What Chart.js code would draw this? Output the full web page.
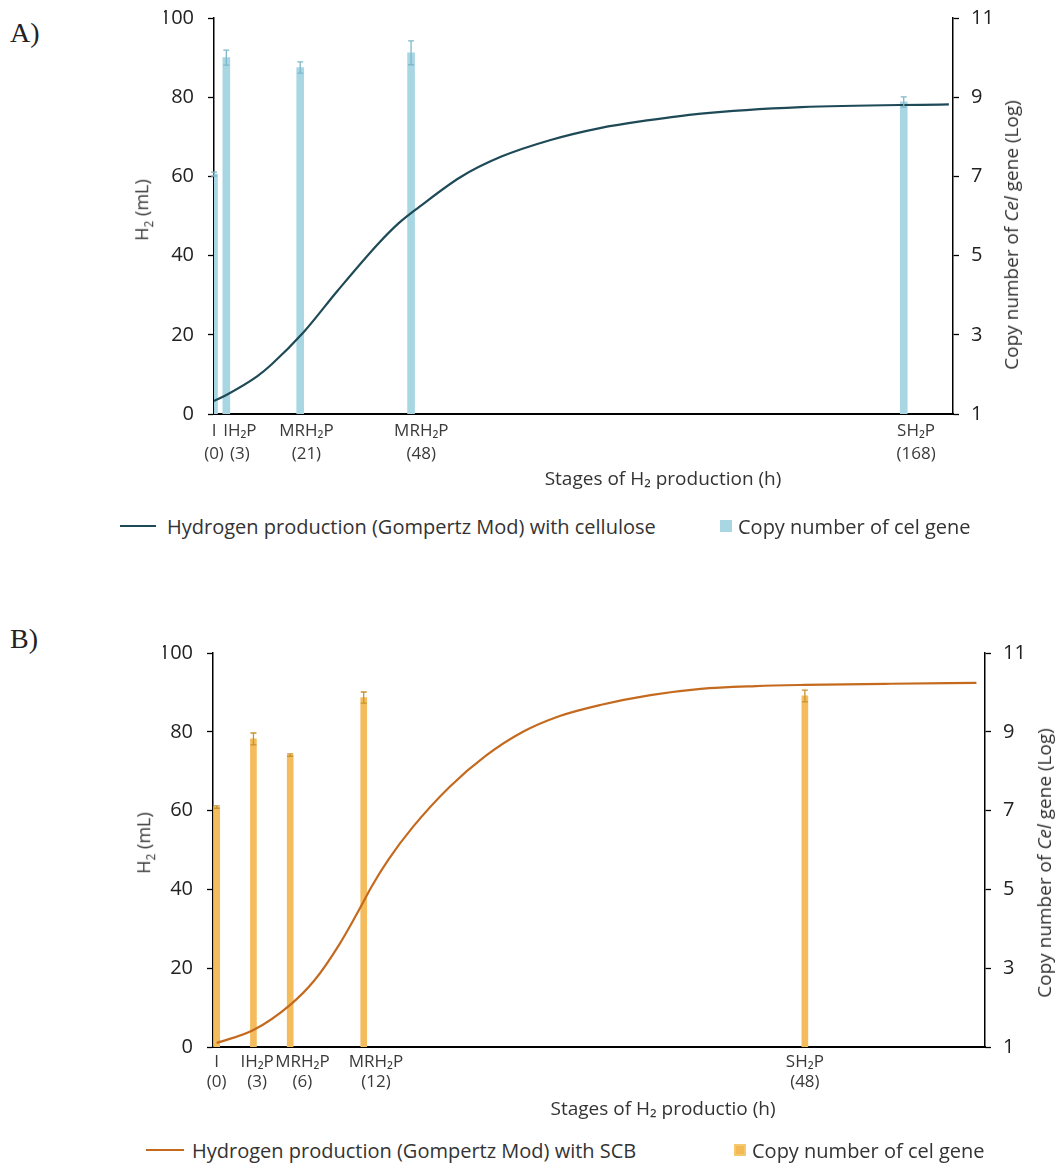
<!DOCTYPE html>
<html>
<head>
<meta charset="utf-8">
<script src="https://cdn.jsdelivr.net/npm/chart.js@4.4.1/dist/chart.umd.min.js"></script>
<style>
  body { margin: 0; background: #fff; font-family: "Open Sans", sans-serif; color: #333; }
  #page { position: relative; width: 1057px; height: 1169px; overflow: hidden; }
  .box { position: absolute; left: 0; width: 1057px; }
  .txt { position: absolute; white-space: nowrap; }
  .rot { transform: translate(-50%, -50%) rotate(-90deg); color: #333; }
  .panel { font-family: "Liberation Serif", serif; font-size: 28px; color: #222; }
  .xt { transform: translate(-50%, -50%); font-size: 19px; color: #333; }
  .leg { font-size: 20px; color: #333; transform: translateY(-50%); }
  .legline { position: absolute; height: 0; border-top: 2px solid; }
  .legbox { position: absolute; width: 12px; height: 12px; }
</style>
</head>
<body>
<div id="page">
  <div class="txt panel" style="left:10px; top:17px;">A)</div>
  <div class="box" style="top:-22px; height:516px;"><canvas id="chartA"></canvas></div>
  <div class="txt rot" style="left:143px; top:210px; font-size:18px;">H<sub style="font-size:12px">2</sub> (mL)</div>
  <div class="txt rot" style="left:1011px; top:235px; font-size:19px;">Copy number of <i>Cel</i> gene (Log)</div>
  <div class="txt xt" style="left:663px; top:478px;">Stages of H₂ production (h)</div>
  <div class="legline" style="left:120px; width:36px; top:525px; border-color:#1e4a57;"></div>
  <div class="txt leg" style="left:167px; top:526px;">Hydrogen production (Gompertz Mod) with cellulose</div>
  <div class="legbox" style="left:720px; top:520px; background:#a9d6e3;"></div>
  <div class="txt leg" style="left:738px; top:526px;">Copy number of cel gene</div>

  <div class="txt panel" style="left:10px; top:623px;">B)</div>
  <div class="box" style="top:613px; height:514px;"><canvas id="chartB"></canvas></div>
  <div class="txt rot" style="left:145px; top:843px; font-size:18px;">H<sub style="font-size:12px">2</sub> (mL)</div>
  <div class="txt rot" style="left:1044px; top:863px; font-size:19px;">Copy number of <i>Cel</i> gene (Log)</div>
  <div class="txt xt" style="left:663px; top:1108px;">Stages of H₂ productio (h)</div>
  <div class="legline" style="left:146px; width:38px; top:1149px; border-color:#c46a1f;"></div>
  <div class="txt leg" style="left:192px; top:1150px;">Hydrogen production (Gompertz Mod) with SCB</div>
  <div class="legbox" style="left:734px; top:1144px; background:#f2b955; box-shadow: inset 0 0 0 2px #f5c76f;"></div>
  <div class="txt leg" style="left:752px; top:1150px;">Copy number of cel gene</div>
</div>
<script>
// A) cellulose
const stagesA = ['I', 'IH₂P', 'MRH₂P', 'MRH₂P', 'SH₂P'];
const hoursA = [0, 3, 21, 48, 168];
const copiesA = [7.06, 10.0, 9.75, 10.12, 8.88];
const copiesErrA = [0.05, 0.19, 0.14, 0.3, 0.13];
const labelAtA = [0, 6.3, 22.5, 50.5, 171];   // where the stage names sit on the hour axis
const curveHoursA = [0, 3, 10.5, 14, 21.7, 30, 40, 45, 50, 60, 70, 82, 94, 106, 118, 143, 179];
const curveH2A = [3.3, 4.8, 9.5, 12.5, 20.5, 31, 43, 48.2, 52.3, 59.8, 65, 69.2, 72.2, 74.2, 75.8, 77.5, 78.2];

// B) sugarcane bagasse
const stagesB = ['I', 'IH₂P', 'MRH₂P', 'MRH₂P', 'SH₂P'];
const hoursB = [0, 3, 6, 12, 48];
const copiesB = [7.09, 8.82, 8.41, 9.87, 9.91];
const copiesErrB = [0.03, 0.15, 0.03, 0.14, 0.15];
const labelAtB = [0, 3.3, 7.0, 13.0, 48];
const curveHoursB = [0, 3, 6, 8, 10, 12, 12.6, 14, 16, 19, 22, 25, 28, 31.3, 35.4, 39.5, 44, 48, 55, 62];
const curveH2B = [1.0, 4.3, 10.7, 17, 26, 37, 40.5, 47.5, 55.8, 66, 74, 80, 84, 86.8, 89.3, 90.9, 91.6, 91.9, 92.2, 92.4];

const leftTicks = [0, 20, 40, 60, 80, 100];
const rightTicks = [1, 3, 5, 7, 9, 11];

// error bars on top of the copy-number bars
const errorBars = {
  id: 'errorBars',
  afterDatasetsDraw(chart) {
    const ds = chart.data.datasets.find(d => d.errors);
    if (!ds) return;
    const x = chart.scales.x, y = chart.scales.y2;
    const ctx = chart.ctx;
    ctx.save();
    ctx.strokeStyle = ds.errorColor;
    ctx.lineWidth = 1.3;
    ds.data.forEach((p, i) => {
      const px = x.getPixelForValue(p.x);
      const top = y.getPixelForValue(p.y + ds.errors[i]);
      const bot = y.getPixelForValue(p.y - ds.errors[i]);
      ctx.beginPath();
      ctx.moveTo(px, top); ctx.lineTo(px, bot);
      ctx.moveTo(px - 3, top); ctx.lineTo(px + 3, top);
      ctx.moveTo(px - 3, bot); ctx.lineTo(px + 3, bot);
      ctx.stroke();
    });
    ctx.restore();
  }
};

function makeChart(id, o) {
  const tickFont = { family: 'Open Sans', size: 20 };
  return new Chart(document.getElementById(id), {
    data: {
      datasets: [{
        type: 'line',
        label: o.lineLabel,
        data: o.curveHours.map((h, i) => ({ x: h, y: o.curveH2[i] })),
        yAxisID: 'y',
        borderColor: o.lineColor,
        borderWidth: 2.2,
        pointRadius: 0,
        cubicInterpolationMode: 'monotone',
        order: 0
      }, {
        type: 'bar',
        label: 'Copy number of cel gene',
        data: o.hours.map((h, i) => ({ x: h, y: o.copies[i] })),
        errors: o.copiesErr,
        errorColor: o.errColor,
        yAxisID: 'y2',
        backgroundColor: o.barColor,
        barThickness: o.barWidth,
        order: 1
      }]
    },
    options: {
      responsive: true,
      maintainAspectRatio: false,
      animation: false,
      layout: { padding: o.padding },
      plugins: { legend: { display: false }, tooltip: { enabled: false } },
      scales: {
        x: {
          type: 'linear',
          offset: false,
          min: o.xMin,
          max: o.xMax,
          afterBuildTicks: ax => { ax.ticks = o.labelAt.map(v => ({ value: v })); },
          afterFit: ax => { ax.height = 60; },
          grid: { display: false, drawTicks: false },
          border: { display: true, color: '#000', width: 2 },
          ticks: {
            autoSkip: false,
            maxRotation: 0,
            padding: 5,
            color: '#3a3a3a',
            font: { family: 'Open Sans', size: 17, lineHeight: o.xLineHeight },
            callback: (v, i) => [o.stages[i], '(' + o.hours[i] + ')']
          }
        },
        y: {
          position: 'left',
          min: 0, max: 100,
          afterBuildTicks: ax => { ax.ticks = leftTicks.map(v => ({ value: v })); },
          afterFit: ax => { ax.width = 50; },
          grid: { drawOnChartArea: false, drawTicks: true, tickLength: 6, tickColor: '#000', tickWidth: 1.3 },
          border: { display: true, color: '#000', width: 1.5 },
          ticks: { color: '#222', font: tickFont, padding: 14 }
        },
        y2: {
          position: 'right',
          min: 1, max: 11,
          afterBuildTicks: ax => { ax.ticks = rightTicks.map(v => ({ value: v })); },
          afterFit: ax => { ax.width = 50; },
          grid: { drawOnChartArea: false, drawTicks: true, tickLength: 6, tickColor: '#000', tickWidth: 1.3 },
          border: { display: true, color: '#000', width: 1.5 },
          ticks: { color: '#222', font: tickFont, padding: 12 }
        }
      }
    },
    plugins: [errorBars]
  });
}

makeChart('chartA', {
  lineLabel: 'Hydrogen production (Gompertz Mod) with cellulose',
  stages: stagesA, hours: hoursA, copies: copiesA, copiesErr: copiesErrA, labelAt: labelAtA,
  curveHours: curveHoursA, curveH2: curveH2A,
  lineColor: '#1e4a57', barColor: '#a9d6e3', errColor: '#7fb8ca', barWidth: 7,
  xMin: 0, xMax: 180, xLineHeight: 1.38,
  padding: { left: 164, right: 54, top: 40, bottom: 20 }
});

makeChart('chartB', {
  lineLabel: 'Hydrogen production (Gompertz Mod) with SCB',
  stages: stagesB, hours: hoursB, copies: copiesB, copiesErr: copiesErrB, labelAt: labelAtB,
  curveHours: curveHoursB, curveH2: curveH2B,
  lineColor: '#c46a1f', barColor: '#f4bc5c', errColor: '#c8932e', barWidth: 6,
  xMin: -0.3, xMax: 62.7, xLineHeight: 1.2,
  padding: { left: 163, right: 22, top: 40, bottom: 20 }
});
</script>
</body>
</html>
